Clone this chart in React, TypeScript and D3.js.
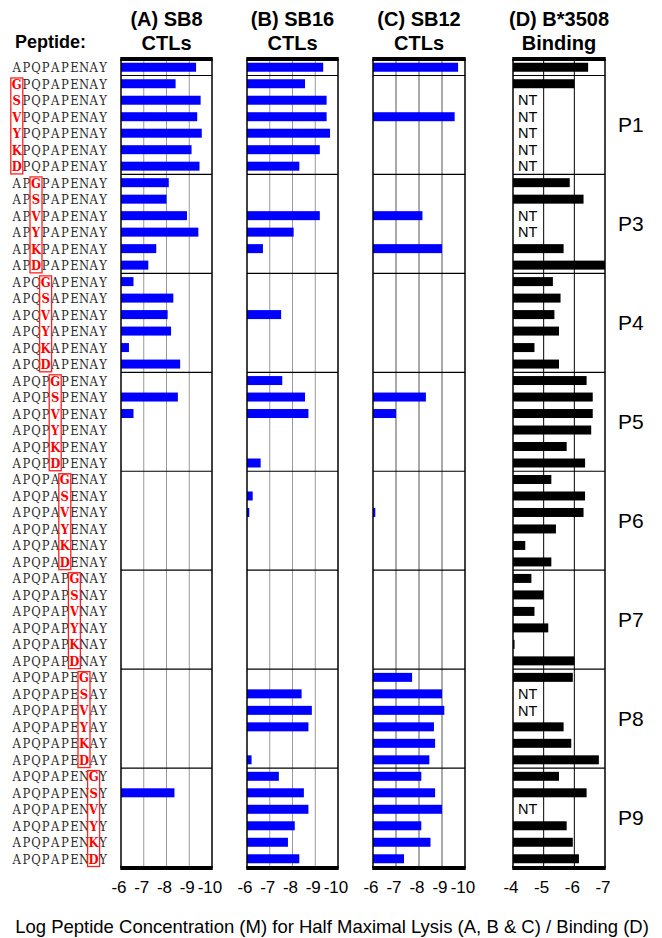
import * as d3 from 'd3';
import React, { useEffect, useRef } from 'react';

// wild type peptide and the substitution scan
const wildType = 'APQPAPENAY';
const positions = ['P1', 'P3', 'P4', 'P5', 'P6', 'P7', 'P8', 'P9'];
const positionIndex = [0, 2, 3, 4, 5, 6, 7, 8];
const substitutions = ['G', 'S', 'V', 'Y', 'K', 'D'];

// log peptide conc. for half maximal lysis (null = no lysis)
// order: WT, then P1..P9 groups, each G S V Y K D
const sb8 = [
  -9.3,
  -8.4, -9.5, -9.35, -9.55, -9.1, -9.45,
  -8.1, -8.0, -8.9, -9.4, -7.55, -7.2,
  -6.55, -8.3, -8.05, -8.2, -6.35, -8.6,
  null, -8.5, -6.55, null, null, null,
  null, null, null, null, null, null,
  null, null, null, null, null, null,
  null, null, null, null, null, null,
  null, -8.35, null, null, null, null,
];
const sb16 = [
  -9.35,
  -8.55, -9.5, -9.5, -9.65, -9.2, -8.3,
  null, null, -9.2, -8.05, -6.7, null,
  null, null, -7.5, null, null, null,
  -7.55, -8.55, -8.7, null, null, -6.6,
  null, -6.25, -6.1, null, null, null,
  null, null, null, null, null, null,
  null, -8.4, -8.85, -8.7, null, -6.2,
  -7.4, -8.5, -8.7, -8.1, -7.8, -8.3,
];
const sb12 = [
  -9.7,
  null, null, -9.55, null, null, null,
  null, null, -8.15, null, -9.0, null,
  null, null, null, null, null, null,
  null, -8.3, -7.0, null, null, null,
  null, null, -6.1, null, null, null,
  null, null, null, null, null, null,
  -7.7, -9.0, -9.1, -8.65, -8.7, -8.45,
  -8.1, -8.7, -9.0, -8.1, -8.5, -7.35,
];
// B*3508 binding, 'NT' = not tested
const binding = [
  -6.45,
  -6.0, 'NT', 'NT', 'NT', 'NT', 'NT',
  -5.85, -6.3, 'NT', 'NT', -5.65, -7.0,
  -5.3, -5.55, -5.35, -5.5, -4.7, -5.5,
  -6.4, -6.6, -6.6, -6.55, -5.75, -6.35,
  -5.25, -6.35, -6.3, -5.4, -4.4, -5.25,
  -4.6, -5.0, -4.7, -5.15, -4.05, -6.0,
  -5.95, 'NT', 'NT', -5.65, -5.9, -6.8,
  -5.5, -6.4, 'NT', -5.75, -5.95, -6.15,
];

const ctlTicks = [-6, -7, -8, -9, -10];
const bindTicks = [-4, -5, -6, -7];

const SANS = '"Liberation Sans", Arial, sans-serif';

const App = () => {
  const ref = useRef<SVGSVGElement>(null);

  useEffect(() => {
    const svg = d3.select(ref.current);
    svg.selectAll('*').remove();

    const peptides = [wildType].concat(
      positionIndex.flatMap(p => substitutions.map(s => wildType.slice(0, p) + s + wildType.slice(p + 1)))
    );

    // one band per peptide row
    const y = d3.scaleBand<number>()
      .domain(d3.range(peptides.length))
      .range([59, 867])
      .paddingInner(0.455)
      .paddingOuter(0.2275);
    const rowTop = (i: number) => 59 + i * y.step();
    const groupStarts = positions.map((_, g) => 1 + g * 6);

    const panels = [
      { t1: '(A) SB8', t2: 'CTLs', range: [121, 212], ticks: ctlTicks, values: sb8, fill: '#0000ff', grid: '#999' },
      { t1: '(B) SB16', t2: 'CTLs', range: [247, 338], ticks: ctlTicks, values: sb16, fill: '#0000ff', grid: '#999' },
      { t1: '(C) SB12', t2: 'CTLs', range: [373, 465], ticks: ctlTicks, values: sb12, fill: '#0000ff', grid: '#555' },
      { t1: '(D) B*3508', t2: 'Binding', range: [513, 605], ticks: bindTicks, values: binding, fill: '#000', grid: '#000' },
    ];

    panels.forEach(p => {
      const x = d3.scaleLinear()
        .domain([p.ticks[0], p.ticks[p.ticks.length - 1]])
        .range(p.range);
      const g = svg.append('g');
      const cx = (p.range[0] + p.range[1]) / 2;

      // grid
      g.selectAll('.grid')
        .data(p.ticks.slice(1, -1))
        .enter().append('line')
        .attr('x1', d => x(d)).attr('x2', d => x(d))
        .attr('y1', 59).attr('y2', 867)
        .attr('stroke', p.grid).attr('stroke-width', 1);

      // bars
      const rows = p.values.map((v, i) => ({ v, i }));
      g.selectAll('.bar')
        .data(rows.filter(r => typeof r.v === 'number'))
        .enter().append('rect')
        .attr('x', x(p.ticks[0]))
        .attr('y', d => y(d.i)!)
        .attr('width', d => x(d.v as number) - x(p.ticks[0]))
        .attr('height', y.bandwidth())
        .attr('fill', p.fill);

      // not tested
      g.selectAll('.nt')
        .data(rows.filter(r => r.v === 'NT'))
        .enter().append('text')
        .attr('x', x(p.ticks[0]) + 5)
        .attr('y', d => y(d.i)! + y.bandwidth() / 2 + 5.2)
        .attr('font-family', SANS).attr('font-size', 14.5)
        .text('NT');

      // group separators
      g.selectAll('.sep')
        .data(groupStarts)
        .enter().append('line')
        .attr('x1', p.range[0]).attr('x2', p.range[1])
        .attr('y1', d => rowTop(d)).attr('y2', d => rowTop(d))
        .attr('stroke', '#000').attr('stroke-width', 1.2);

      // frame
      p.range.forEach(xx => {
        g.append('line').attr('x1', xx).attr('x2', xx).attr('y1', 59).attr('y2', 868)
          .attr('stroke', '#000').attr('stroke-width', 1.5);
      });
      [59, 868].forEach(yy => {
        g.append('line').attr('x1', p.range[0] - 0.75).attr('x2', p.range[1] + 0.75)
          .attr('y1', yy).attr('y2', yy)
          .attr('stroke', '#000').attr('stroke-width', 4);
      });

      // titles
      g.append('text').attr('x', cx).attr('y', 26).attr('text-anchor', 'middle')
        .attr('font-family', SANS).attr('font-weight', 'bold').attr('font-size', 20).text(p.t1);
      g.append('text').attr('x', cx).attr('y', 50).attr('text-anchor', 'middle')
        .attr('font-family', SANS).attr('font-weight', 'bold').attr('font-size', 20).text(p.t2);

      // tick labels
      g.selectAll('.tick')
        .data(p.ticks)
        .enter().append('text')
        .attr('x', d => x(d) - 2)
        .attr('y', 893)
        .attr('text-anchor', 'middle')
        .attr('font-family', SANS).attr('font-size', 17)
        .text(d => String(d));
    });

    // peptide labels, one char per cell
    const cell = 9.6;
    const lab = svg.append('g');
    peptides.forEach((pep, i) => {
      const grp = i === 0 ? -1 : Math.floor((i - 1) / 6);
      pep.split('').forEach((ch, j) => {
        const mut = grp >= 0 && positionIndex[grp] === j;
        lab.append('text')
          .attr('transform', `translate(${12 + cell * (j + 0.5)},${y(i)! + y.bandwidth() / 2 + 5})`)
          .attr('text-anchor', 'middle')
          .attr('font-family', '"DejaVu Serif", serif')
          .attr('font-size', 13.5)
          .attr('transform', `translate(${12 + cell * (j + 0.5)},${y(i)! + y.bandwidth() / 2 + 5}) scale(0.86,1)`)
          .attr('font-weight', mut ? 'bold' : 'normal')
          .attr('fill', mut ? '#ff0000' : '#2a2a2a')
          .text(ch);
      });
    });

    // red boxes around substituted column
    positionIndex.forEach((p, g) => {
      const top = rowTop(groupStarts[g]);
      const bottom = rowTop(groupStarts[g] + 6);
      const c = 12 + cell * (p + 0.5);
      lab.append('rect')
        .attr('x', c - 6).attr('y', top + 2.5)
        .attr('width', 12).attr('height', bottom - top - 3)
        .attr('fill', 'none').attr('stroke', '#ff2020').attr('stroke-width', 1.3);
      // position label
      svg.append('text')
        .attr('x', 618).attr('y', (top + bottom) / 2 + 7.5)
        .attr('font-family', SANS).attr('font-size', 21)
        .text(positions[g]);
    });

    svg.append('text').attr('x', 15).attr('y', 48)
      .attr('font-family', SANS).attr('font-weight', 'bold').attr('font-size', 18)
      .text('Peptide:');

    svg.append('text').attr('x', 332).attr('y', 933).attr('text-anchor', 'middle')
      .attr('font-family', SANS).attr('font-size', 18.5)
      .text('Log Peptide Concentration (M) for Half Maximal Lysis (A, B & C) / Binding (D)');
  }, []);

  return (
    <svg ref={ref} width={662} height={938}
      style={{ position: 'absolute', left: 0, top: 0, background: '#fff' }} />
  );
};

export default App;
